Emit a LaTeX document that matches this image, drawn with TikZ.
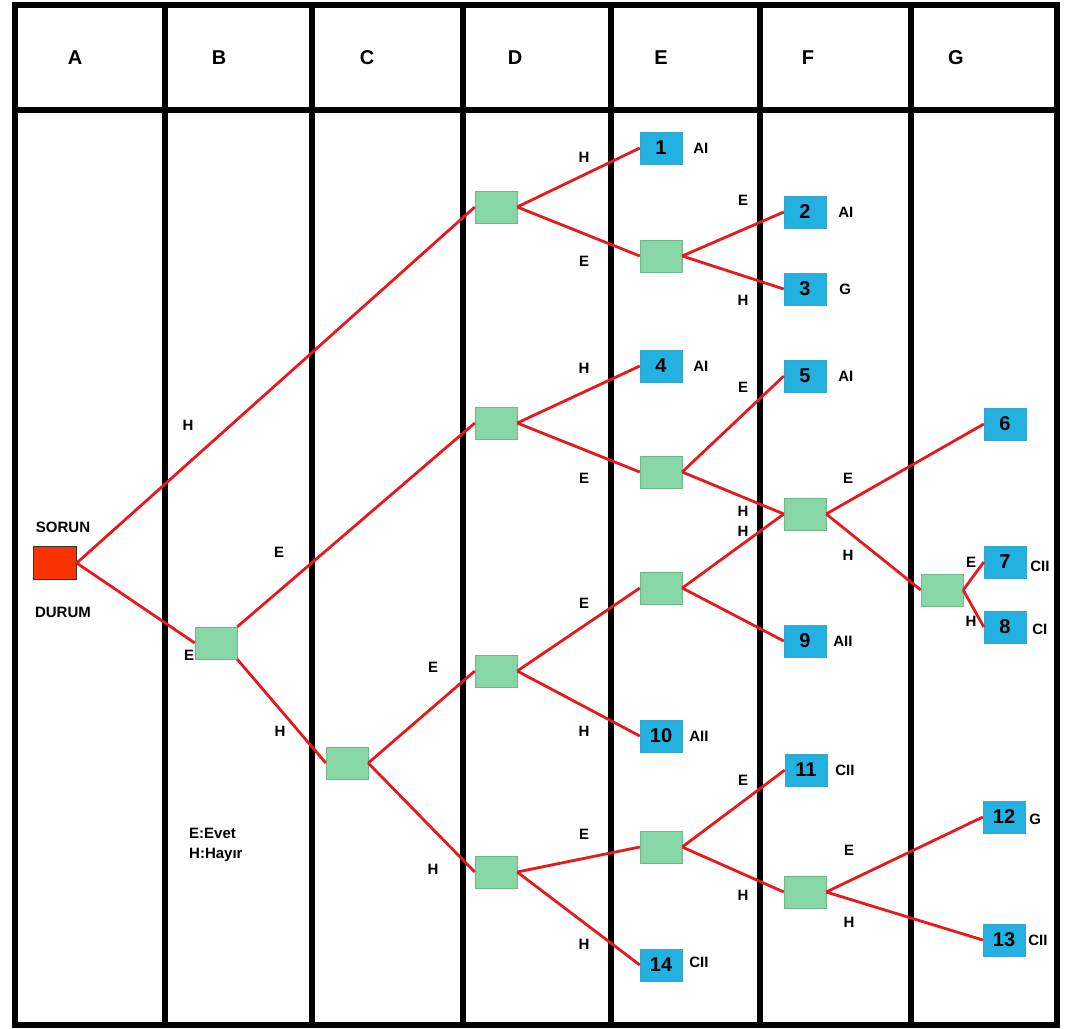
\documentclass[tikz,border=0pt]{standalone}
\usepackage{fontspec}
\setmainfont{Liberation Sans}
\usetikzlibrary{positioning}
\definecolor{alarm}{HTML}{FA3200}
\definecolor{mint}{HTML}{86D7A5}
\definecolor{sky}{HTML}{22B1E1}
\definecolor{wire}{HTML}{E8191C}

\tikzset{
  tag/.style={font=\bfseries\fontsize{15}{18}\selectfont,inner sep=0pt},
  head/.style={font=\bfseries\fontsize{20}{24}\selectfont,inner sep=0pt},
  decision/.style={draw=mint!85!black,fill=mint,minimum width=42pt,minimum height=32pt,inner sep=0pt},
  leaf/.style={draw=sky!75!gray,fill=sky,minimum width=42pt,minimum height=32pt,inner sep=0pt,font=\bfseries\fontsize{20}{24}\selectfont},
  problem/.style={draw=black!80,fill=alarm,minimum width=43pt,minimum height=33pt,inner sep=0pt},
  link/.style={draw=wire,line width=2.8pt},
  grid/.style={line width=5.5pt,draw=black}
}

\begin{document}
\begin{tikzpicture}[x=1pt,y=-1pt]
\useasboundingbox (0,0) rectangle (1070,1028);
% table
\draw[grid] (15,5) rectangle (1057,1025);
\draw[grid] (15,110) -- (1057,110);
\foreach \x in {165,312,463,611,760,911}
  \draw[grid] (\x,5) -- (\x,1025);
\foreach \x/\t in {75/A,219/B,367/C,515/D,661/E,808/F,956/G}
  \node[head] at (\x,58) {\t};

% decision boxes
\node[problem] (root) at (55,563) {};
\node[tag] (sorun) at (63,527) {SORUN};
\node[tag] (durum) at (63,612) {DURUM};
\node[decision] (b1) at (216,643) {};
\node[decision] (c1) at (347,763) {};
\node[decision] (d1) at (496,207) {};
\node[decision] (d2) at (496,423) {};
\node[decision] (d3) at (496,671) {};
\node[decision] (d4) at (496,872) {};
\node[decision] (e1) at (661,256) {};
\node[decision] (e2) at (661,472) {};
\node[decision] (e3) at (661,588) {};
\node[decision] (e4) at (661,847) {};
\node[decision] (f1) at (805,514) {};
\node[decision] (f2) at (805,892) {};
\node[decision] (g1) at (942,590) {};

% outcomes
\node[leaf] (l1) at (661,148) {1};
\node[leaf] (l2) at (805,212) {2};
\node[leaf] (l3) at (805,289) {3};
\node[leaf] (l4) at (661,366) {4};
\node[leaf] (l5) at (805,376) {5};
\node[leaf] (l6) at (1005,424) {6};
\node[leaf] (l7) at (1005,562) {7};
\node[leaf] (l8) at (1005,627) {8};
\node[leaf] (l9) at (805,641) {9};
\node[leaf] (l10) at (661,736) {10};
\node[leaf] (l11) at (806,770) {11};
\node[leaf] (l12) at (1004,817) {12};
\node[leaf] (l13) at (1004,940) {13};
\node[leaf] (l14) at (661,965) {14};

\node[tag,right=11pt of l1] {AI};
\node[tag,right=12pt of l2] {AI};
\node[tag,right=13pt of l3] {G};
\node[tag,right=11pt of l4] {AI};
\node[tag,right=12pt of l5] {AI};
\node[tag,right=4pt of l7,yshift=-4pt] {CII};
\node[tag,right=6pt of l8,yshift=-2pt] {CI};
\node[tag,right=7pt of l9] {AII};
\node[tag,right=7pt of l10] {AII};
\node[tag,right=8pt of l11] {CII};
\node[tag,right=4pt of l12,yshift=-2pt] {G};
\node[tag,right=3pt of l13] {CII};
\node[tag,right=7pt of l14,yshift=3pt] {CII};

% branches
\draw[link] (root.east) -- (d1.west);
\draw[link] (root.east) -- (b1.west);
\draw[link] (b1.north east) -- (d2.west);
\draw[link] (b1.south east) -- (c1.west);
\foreach \a/\b in {c1/d3,c1/d4,d1/l1,d1/e1,e1/l2,e1/l3,d2/l4,d2/e2,e2/l5,e2/f1,
  d3/e3,e3/f1,e3/l9,d3/l10,f1/l6,f1/g1,g1/l7,g1/l8,d4/e4,d4/l14,e4/l11,e4/f2,f2/l12,f2/l13}
  \draw[link] (\a.east) -- (\b.west);

% branch answers
\foreach \x/\y/\t in {188/425/H,189/655/E,279/552/E,280/731/H,433/667/E,433/869/H,
  584/157/H,584/261/E,743/200/E,743/300/H,584/368/H,584/478/E,743/387/E,743/511/H,
  584/603/E,743/531/H,584/731/H,848/478/E,848/555/H,971/562/E,971/621/H,
  584/834/E,584/944/H,743/780/E,743/895/H,849/850/E,849/922/H}
  \node[tag] at (\x,\y) {\t};

% legend
\node[tag,anchor=north west,align=left,font=\bfseries\fontsize{15}{20}\selectfont] (legend) at (189,828) {E:Evet\\H:Hayır};
\end{tikzpicture}
\end{document}
